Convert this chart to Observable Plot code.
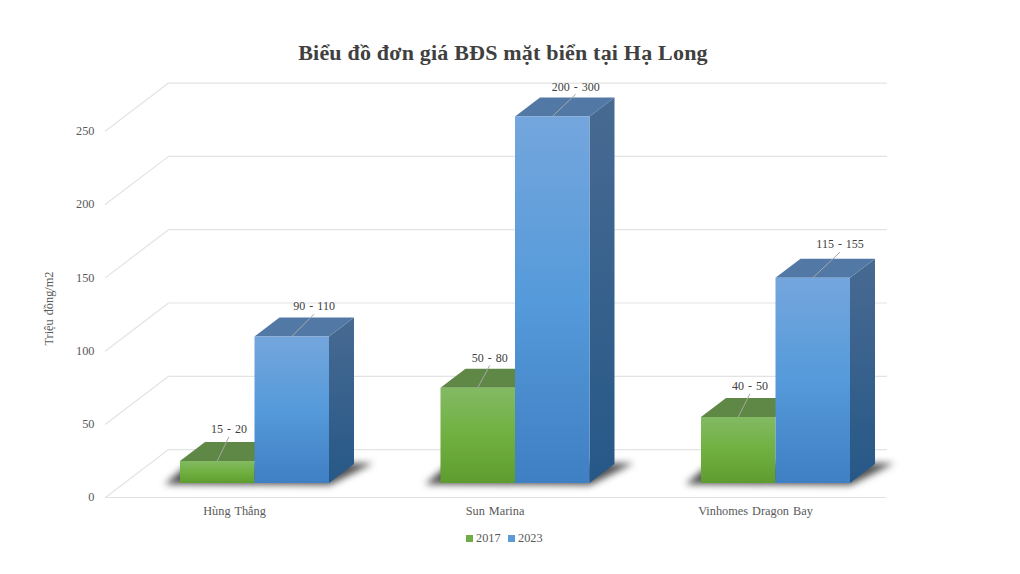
<!DOCTYPE html>
<html lang="vi">
<head>
<meta charset="utf-8">
<script src="https://cdn.jsdelivr.net/npm/d3@7"></script>
<script src="https://cdn.jsdelivr.net/npm/@observablehq/plot@0.6"></script>
<style>
html,body{margin:0;padding:0;background:#fff;overflow:hidden}
body{width:1020px;height:574px;font-family:"Liberation Serif",serif}
#title{box-sizing:border-box;height:70px;padding:38px 0 0 0;line-height:30px;text-align:center;width:1006px;font-size:22px;font-weight:bold;color:#404040;letter-spacing:.2px}
#chart svg{display:block}
#legend{height:54px;line-height:36px;font-size:12.3px;color:#595959;position:relative}
#legend span{position:absolute;top:0}
#legend i{position:absolute;top:15px;width:7px;height:7px}
</style>
</head>
<body>
<div id="title">Biểu đồ đơn giá BĐS mặt biển tại Hạ Long</div>
<div id="chart"></div>
<div id="legend"></div>
<script>
// ---- data
const categories = ["Hùng Thắng", "Sun Marina", "Vinhomes Dragon Bay"];
const values2017 = [15, 65, 45];
const values2023 = [100, 250, 140];
const labels2017 = ["15 - 20", "50 - 80", "40 - 50"];
const labels2023 = ["90 - 110", "200 - 300", "115 - 155"];
const yTicks = [0, 50, 100, 150, 200, 250];
const yLabel = "Triệu đồng/m2";
const seriesNames = ["2017", "2023"];

// ---- layout of the fake 3-D box, in scale units
const barW = 0.286, depthX = 0.096, depthY = 12.96;
const floorFront = -9.9, floorBack = 22.8;
const wallFrontX = -0.072, wallBackX = 0.17, wallRightX = 2.926;
const center = i => i + 0.5;
const labelShift2017 = [[0.045, 2], [0.046, 0.7], [0.045, 1.4]];
const labelShift2023 = [[0.086, 0.7], [0.09, 0.7], [0.105, 3]];

// ---- table builders
const bars = (vals, side) => vals.map((v, i) => ({
  i, v,
  L: side === 0 ? center(i) - barW : center(i),
  R: side === 0 ? center(i) : center(i) + barW
}));
const b17 = bars(values2017, 0), b23 = bars(values2023, 1);
const face = (bs, f) => bs.flatMap(b => f(b).map(([x, y]) => ({x, y, z: b.i})));
const front = b => [[b.L,0],[b.R,0],[b.R,b.v],[b.L,b.v]];
const top_ = b => [[b.L,b.v],[b.R,b.v],[b.R+depthX,b.v+depthY],[b.L+depthX,b.v+depthY]];
const side = b => [[b.R,0],[b.R+depthX,depthY],[b.R+depthX,b.v+depthY],[b.R,b.v]];
const shadow = b => [
  [center(b.i)-0.345,-0.8],[center(b.i)-0.25,13.5],[center(b.i)+0.455,13.5],[center(b.i)+0.288,-1.4]
];
const grid = yTicks.flatMap(t => [
  {x: wallFrontX, y: t + floorFront, t},
  {x: wallBackX, y: t + floorBack, t},
  {x: wallRightX, y: t + floorBack, t}
]);
const poly = (rows, fill, extra={}) => Plot.line(rows, {x:"x", y:"y", z:"z", fill, stroke:"none", curve:"linear-closed", ...extra});

const labelRows = (bs, labs, shift) => bs.map((b, i) => ({
  x0: (b.L + b.R) / 2,
  y0: b.v,
  x1: (b.L + b.R) / 2 + shift[i][0],
  y1: b.v + 14.5 + shift[i][1],
  yt: b.v + 19.6 + shift[i][1],
  text: labs[i]
}));
const lab = [...labelRows(b17, labels2017, labelShift2017), ...labelRows(b23, labels2023, labelShift2023)];

const gradient = (id, stops) =>
  `<linearGradient id="${id}" x1="0" y1="0" x2="0" y2="1">` +
  stops.map(([o, c]) => `<stop offset="${o}" stop-color="${c}"/>`).join("") + `</linearGradient>`;
const defs = () => {
  const g = document.createElementNS("http://www.w3.org/2000/svg", "defs");
  g.innerHTML =
    gradient("gGreen", [[0,"#83ba63"],[0.5,"#70b040"],[1,"#5f9c30"]]) +
    gradient("gBlue", [[0,"#74a6dd"],[0.5,"#559ada"],[1,"#3f7fc3"]]) +
    gradient("gSide", [[0,"#486a92"],[1,"#265887"]]);
  return g;
};

const chart = Plot.plot({
  width: 1020, height: 450,
  marginLeft: 97, marginRight: 0, marginTop: 0, marginBottom: 26,
  x: {domain: [0, 3], range: [123.75, 905.25], axis: null},
  y: {domain: [0, 250], range: [412.5, 46], axis: null},
  style: {background: "#fff", fontFamily: "'Liberation Serif',serif", fontSize: "12.3px", color: "#595959", wordSpacing: "1px"},
  marks: [
    defs,
    Plot.line(grid, {x:"x", y:"y", z:"t", stroke:"#e3e3e3", strokeWidth:1.2}),
    Plot.ruleY([floorFront], {x1: wallFrontX, x2: wallRightX, stroke:"#e3e3e3", strokeWidth:1.2}),
    poly(face(b23, shadow), "#333", {imageFilter:"blur(3.5px)", fillOpacity:0.85}),
    poly(face(b17, top_), "#5f8745"),
    poly(face(b17, front), "url(#gGreen)"),
    poly(face(b23, side), "url(#gSide)"),
    poly(face(b23, top_), "#5279a6"),
    poly(face(b23, front), "url(#gBlue)"),
    Plot.link(lab, {x1:"x0", y1:"y0", x2:"x1", y2:"y1", stroke:"#a6a6a6", strokeWidth:1}),
    Plot.text(lab, {x:"x1", y:"yt", text:"text", fill:"#404040", fontSize:12}),
    Plot.axisY({ticks: yTicks, anchor:"left", tickSize:0, tickPadding:3, dy:14.5, label:null, fill:"#595959"}),
    Plot.axisX({ticks: categories.map((c,i)=>center(i)), anchor:"bottom", tickSize:0, tickPadding:12, dx:-20, label:null, fill:"#595959",
      tickFormat: t => categories[Math.floor(t)]}),
    Plot.text([yLabel], {x:()=>-0.29, y:()=>119, text:d=>d, rotate:-90, fill:"#595959"})
  ]
});
document.getElementById("chart").append(chart);

const leg = document.getElementById("legend");
[["#70ad47", 466, 476], ["#5b9bd5", 508, 518]].forEach(([c, a, b], i) => {
  const sq = document.createElement("i");
  sq.style.background = c; sq.style.left = a + "px";
  const tx = document.createElement("span");
  tx.textContent = seriesNames[i]; tx.style.left = b + "px";
  leg.append(sq, tx);
});
</script>
</body>
</html>
